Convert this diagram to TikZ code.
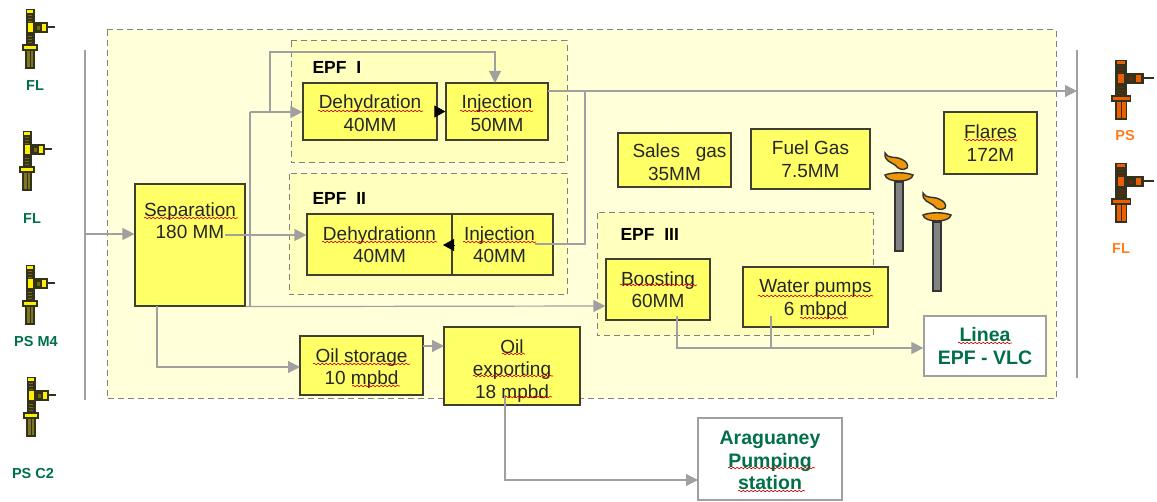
\documentclass[tikz,border=0pt]{standalone}
\usepackage{fontspec}
\setmainfont{Liberation Sans}
\definecolor{BgPale}   {RGB}{255,255,217}
\definecolor{BgEpf}    {RGB}{255,255,190}
\definecolor{BoxFill}  {RGB}{255,255,102}
\definecolor{BoxLine}  {RGB}{64,64,50}
\definecolor{LineGrey} {RGB}{160,160,160}
\definecolor{DashGrey} {RGB}{128,128,128}
\definecolor{GreenText}{RGB}{0,112,72}
\definecolor{WellDark} {RGB}{50,50,30}
\definecolor{WellYell} {RGB}{255,240,0}
\definecolor{WellOlive}{RGB}{128,118,32}
\definecolor{WellOrng} {RGB}{235,95,0}
\definecolor{OrngText} {RGB}{255,125,30}
\definecolor{FlameOrng}{RGB}{240,150,10}
\definecolor{StemGrey} {RGB}{130,130,130}
\usetikzlibrary{arrows.meta,calc,decorations.pathmorphing}

\begin{document}
\begin{tikzpicture}[x=1pt,y=-1pt,
  box/.style={draw=BoxLine,fill=BoxFill,line width=1.2pt,inner sep=0pt,
              align=center,font=\fontsize{19}{22.5}\selectfont,text=black!85},
  whitebox/.style={draw=LineGrey,fill=white,line width=1.2pt,inner sep=0pt,align=center,
              font=\fontsize{19.5}{22.5}\selectfont\bfseries,text=GreenText},
  zone/.style={draw=DashGrey,dash pattern=on 6pt off 4pt,line width=1pt},
  title/.style={font=\fontsize{17.5}{20}\selectfont\bfseries,text=black},
  welllabel/.style={font=\fontsize{14.5}{16}\selectfont\bfseries},
  link/.style={draw=LineGrey,line width=1.2pt},
  flow/.style={link,-{Triangle[length=12pt,width=12pt]}},
  blackflow/.style={draw=black,-{Triangle[length=11pt,width=12pt]},line width=.8pt},
  bar/.style={draw=LineGrey,line width=1.2pt},
  spell/.style={draw=red!85!black,line width=.6pt,decorate,
                decoration={snake,amplitude=.8pt,segment length=4pt}},
  pics/wellhead/.style 2 args={code={
    \fill[WellDark] (-4.5,0) rectangle (4.5,38);
    \fill[WellDark] (4,13.5) rectangle (17.5,24.5);
    \fill[WellDark] (17,17) rectangle (25,19.5);
    \foreach \ypos in {6,9,12,27,30,33}
      \fill[#1!45!black] (-2,\ypos) rectangle (2,\ypos+1.5);
    \fill[#1!45!black] (6.5,17) rectangle (9.5,21);
    \fill[#1] (-3,1.5) rectangle (3,4);
    \fill[#1] (-2.5,14.5) rectangle (2.5,23);
    \fill[#1] (11.5,15.5) rectangle (15.5,22.5);
    \filldraw[fill=#1,draw=WellDark,line width=1.2pt] (-7,36) rectangle (7,41);
    \filldraw[fill=#2,draw=WellDark,line width=1.4pt] (-4,41) rectangle (4,59);
    \draw[WellDark,line width=.5pt] (0,41) -- (0,59);
  }},
  pics/flarestack/.style={code={
    \filldraw[fill=StemGrey,draw=black!80,line width=1.4pt] (-4,6) rectangle (4,75);
    \filldraw[fill=FlameOrng,draw=black!80,line width=1.4pt]
      (-14,-1) .. controls (-6,-4) and (6,-4) .. (14,-1)
      .. controls (13,7) and (-13,7) .. (-14,-1) -- cycle;
    \filldraw[fill=FlameOrng,draw=black!80,line width=1.4pt]
      (-14,-23) .. controls (-11,-17) and (-5,-20) .. (2,-17)
      .. controls (7,-15) and (10,-11) .. (8,-8)
      .. controls (4,-5) and (-1,-7) .. (-4,-11)
      .. controls (-8,-14) and (-15,-15) .. (-14,-23) -- cycle;
  }}]
  \useasboundingbox (0,0) rectangle (1157,502);

  \fill[BgPale] (107,30) rectangle (1056,399);
  \draw[zone] (107,30) rectangle (1056,399);
  \draw[zone,fill=BgEpf] (291,41) rectangle (567,163);
  \draw[zone,fill=BgEpf] (289,174) rectangle (567,295);
  \draw[zone,fill=BgEpf] (597,213) rectangle (873,336);

  \draw[bar] (85,50) -- (85,400);
  \draw[bar] (1077,50) -- (1077,378);

  \node[title,anchor=west] (epfA) at (309,67) {EPF\ \ I};
  \node[title,anchor=west] (epfB) at (309,198) {EPF\ \ II};
  \node[title,anchor=west] (epfC) at (617,234) {EPF\ \ III};

  \node[box,minimum width=134pt,minimum height=57pt] (dehydA) at (370,111.5) {\rule{0pt}{17pt}Dehydration\\40MM};
  \node[box,minimum width=102pt,minimum height=57pt] (injA) at (497,111.5) {\rule{0pt}{17pt}Injection\\50MM};
  \node[box,minimum width=110pt,minimum height=122pt] (sep) at (190,245) {Separation\\180 MM\\[26pt]\mbox{}};
  \node[box,minimum width=145pt,minimum height=61pt] (dehydB) at (379.5,244.5) {Dehydrationn\\40MM};
  \node[box,minimum width=101pt,minimum height=61pt] (injB) at (502.5,244.5) {\hspace*{-6pt}Injection\\\hspace*{-6pt}40MM};
  \node[box,minimum width=113pt,minimum height=54pt] (sales) at (674.5,160) {\rule{0pt}{18pt}\hspace*{10pt}Sales\ \ \ gas\\35MM};
  \node[box,minimum width=119pt,minimum height=60pt] (fuel) at (810.5,159) {Fuel Gas\\7.5MM};
  \node[box,minimum width=93pt,minimum height=62pt] (flares) at (990.5,143) {Flares\\172M};
  \node[box,minimum width=104pt,minimum height=61pt] (boost) at (658,289.5) {Boosting\\60MM};
  \node[box,minimum width=145pt,minimum height=60pt] (water) at (815.5,297) {\rule{0pt}{18pt}Water pumps\\6 mbpd};
  \node[box,minimum width=123pt,minimum height=59pt] (storage) at (361.5,365.5) {\rule{0pt}{20pt}Oil storage\\10 mpbd};
  \node[box,minimum width=136pt,minimum height=78pt] (export) at (512,366) {\rule{0pt}{23pt}Oil\\exporting\\18 mpbd};
  \node[whitebox,minimum width=122pt,minimum height=60pt] (linea) at (985,346) {Linea\\EPF - VLC};
  \node[whitebox,minimum width=144pt,minimum height=82pt] (ara) at (770,459) {\rule{0pt}{17pt}Araguaney\\Pumping\\station};

  \coordinate (sepout) at (225,235);
  \coordinate (sepbend) at (250,306);
  \coordinate (sepup) at (250,112);
  \coordinate (topbend) at (270,112);
  \coordinate (sepdown) at (157,306);
  \coordinate (injAout) at (548,91);
  \coordinate (injBout) at (535,244);
  \coordinate (rise) at (585,91);
  \coordinate (barright) at (1077,91);
  \coordinate (barleft) at (85,234);
  \coordinate (boostout) at (677,316);
  \coordinate (waterout) at (771,316);
  \coordinate (merge) at (771,348);
  \coordinate (exportout) at (505,395);

  \draw[flow] (barleft) -- (sep.west |- barleft);
  \draw[flow] (sepout) -- (dehydB.west |- sepout);
  \draw[link] (sepbend) -- (sepup);
  \draw[flow] (sepup) -- (dehydA.west |- sepup);
  \draw[flow] (topbend) -- (270,52) -- (495,52) -- (495,83);
  \draw[flow] (sep.south east) -- (boost.west |- sepbend);
  \draw[flow] (injAout) -- (barright);
  \draw[link] (injBout) -- (injBout -| rise) -- (rise);
  \draw[flow] (sepdown) |- (300,367);
  \draw[flow] (423,346) -- (444,346);
  \draw[flow] (exportout) |- (698,480);
  \draw[flow] (boostout) |- (linea.west |- merge);
  \draw[link] (waterout) -- (merge);
  \draw[blackflow] (dehydA.east) -- (injA.west);
  \draw[blackflow] (454,245) -- (443,245);

  \draw[spell] (318,111) -- (423,111);
  \draw[spell] (460,111) -- (533,111);
  \draw[spell] (144,218) -- (238,218);
  \draw[spell] (322,242) -- (437,242);
  \draw[spell] (463,242) -- (536,242);
  \draw[spell] (964,140) -- (1017,140);
  \draw[spell] (620,285) -- (697,285);
  \draw[spell] (758,296) -- (873,296);
  \draw[spell] (800,318) -- (848,318);
  \draw[spell] (313,364) -- (410,364);
  \draw[spell] (352,386) -- (400,386);
  \draw[spell] (502,354) -- (525,354);
  \draw[spell] (473,376) -- (553,376);
  \draw[spell] (505,397) -- (552,397);
  \draw[spell] (958,343) -- (1012,343);
  \draw[spell] (728,468) -- (815,468);
  \draw[spell] (738,491) -- (805,491);

  \pic at (30,9) {wellhead={WellYell}{WellOlive}};
  \pic at (27,131) {wellhead={WellYell}{WellOlive}};
  \pic at (30,265) {wellhead={WellYell}{WellOlive}};
  \pic at (31,377) {wellhead={WellYell}{WellOlive}};
  \pic[xscale=1.3] at (1121,60) {wellhead={WellOrng}{WellOrng}};
  \pic[xscale=1.3] at (1121,163) {wellhead={WellOrng}{WellOrng}};
  \pic at (899,176) {flarestack};
  \pic at (937,216) {flarestack};

  \node[welllabel,text=GreenText] (wlA) at (35,86) {FL};
  \node[welllabel,text=GreenText] (wlB) at (32,219) {FL};
  \node[welllabel,text=GreenText] (wlC) at (36,342) {PS M4};
  \node[welllabel,text=GreenText] (wlD) at (33,474) {PS C2};
  \node[welllabel,text=OrngText] (wrA) at (1125,136) {PS};
  \node[welllabel,text=OrngText] (wrB) at (1121,249) {FL};
\end{tikzpicture}
\end{document}
